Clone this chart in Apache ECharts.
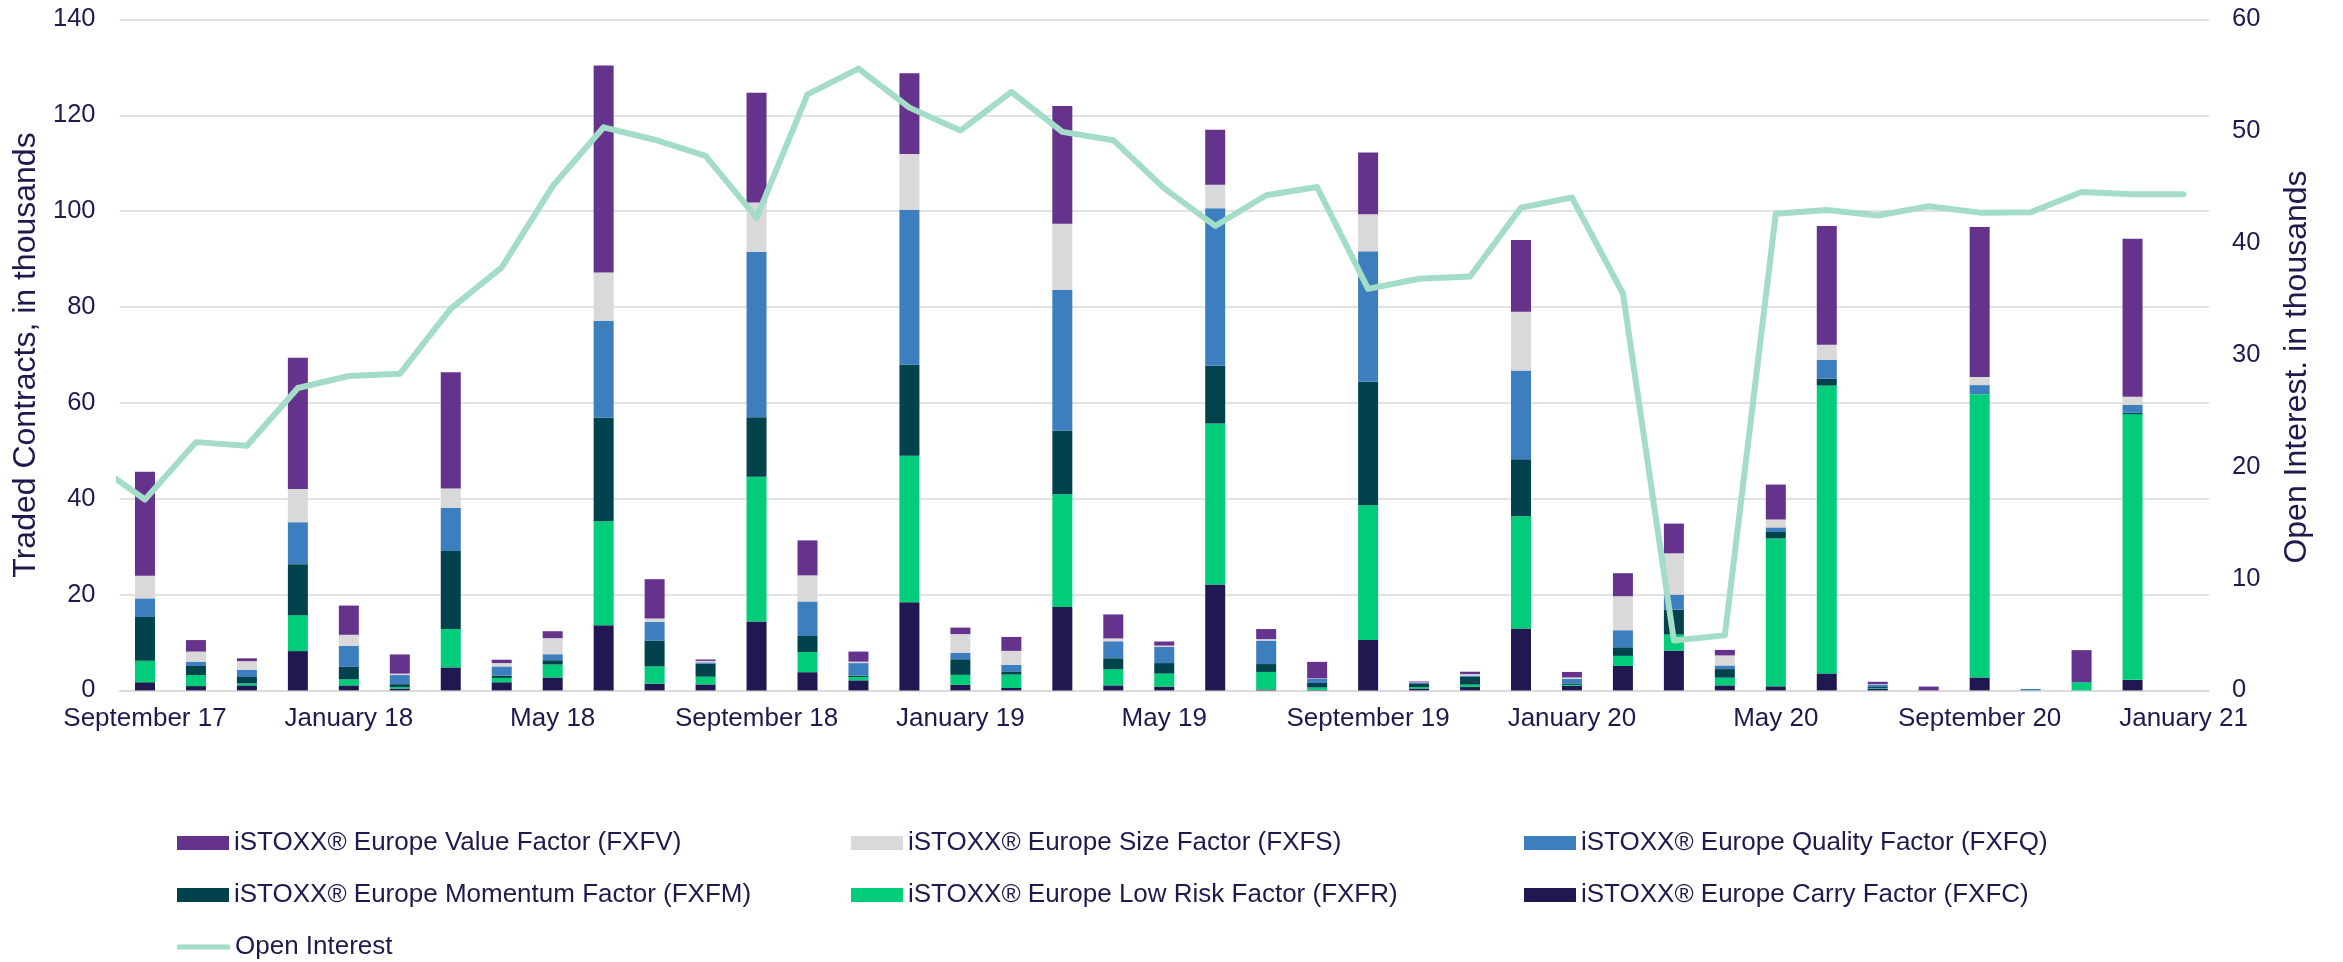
<!DOCTYPE html>
<html>
<head>
<meta charset="utf-8">
<script src="https://cdn.jsdelivr.net/npm/echarts@6/dist/echarts.min.js"></script>
<style>
  html, body { margin: 0; padding: 0; background: #ffffff; }
  #chart { width: 2343px; height: 962px; }
</style>
</head>
<body>
<div id="chart"></div>
<script>
// Categories (monthly)
const months = ['September 17', 'October 17', 'November 17', 'December 17', 'January 18', 'February 18', 'March 18', 'April 18', 'May 18', 'June 18', 'July 18', 'August 18', 'September 18', 'October 18', 'November 18', 'December 18', 'January 19', 'February 19', 'March 19', 'April 19', 'May 19', 'June 19', 'July 19', 'August 19', 'September 19', 'October 19', 'November 19', 'December 19', 'January 20', 'February 20', 'March 20', 'April 20', 'May 20', 'June 20', 'July 20', 'August 20', 'September 20', 'October 20', 'November 20', 'December 20', 'January 21'];

// Traded contracts, in thousands (stacked from bottom to top)
const carryFXFC    = [1.7, 0.9, 1.05, 8.2, 1.05, 0.4, 4.8, 1.7, 2.7, 13.6, 1.4, 1.25, 14.4, 3.8, 2.1, 18.4, 1.15, 0.5, 17.4, 1.05, 0.8, 22.1, 0.2, 0.1, 10.5, 0.4, 0.7, 12.9, 0.95, 5.1, 8.3, 1.05, 0.85, 3.55, 0.4, 0, 2.7, 0, 0, 2.2, 0];
const lowRiskFXFR  = [4.5, 2.3, 0.4, 7.5, 1.25, 0.3, 8.0, 0.9, 2.7, 21.7, 3.6, 1.6, 30.2, 4.2, 0.7, 30.55, 2.1, 2.8, 23.55, 3.35, 2.7, 33.6, 3.65, 0.5, 28.15, 0.3, 0.5, 23.45, 0.2, 2.1, 3.35, 1.6, 30.85, 60.05, 0.1, 0, 59.1, 0, 1.7, 55.45, 0];
const momentumFXFM = [9.1, 1.9, 1.35, 10.6, 2.6, 0.6, 16.3, 0.5, 0.9, 21.6, 5.4, 2.7, 12.4, 3.35, 0.3, 19.05, 3.25, 0.55, 13.3, 2.3, 2.2, 12.05, 1.65, 0.95, 25.75, 0.65, 1.7, 11.9, 0.3, 1.8, 5.2, 1.8, 1.35, 1.45, 0.2, 0, 0, 0, 0, 0.3, 0];
const qualityFXFQ  = [3.9, 0.9, 1.5, 8.8, 4.4, 1.9, 9.0, 1.9, 1.25, 20.2, 3.9, 0.3, 34.5, 7.2, 2.6, 32.3, 1.35, 1.45, 29.3, 3.55, 3.35, 32.85, 4.9, 0.85, 27.2, 0.2, 0.2, 18.5, 0.95, 3.55, 3.15, 0.75, 0.95, 3.9, 0.5, 0, 1.9, 0.3, 0, 1.6, 0];
const sizeFXFS     = [4.7, 2.1, 1.8, 6.9, 2.3, 0.3, 4.0, 0.7, 3.35, 10.1, 0.7, 0.3, 10.3, 5.45, 0.3, 11.6, 3.9, 2.95, 13.8, 0.6, 0.3, 4.9, 0.3, 0.1, 7.75, 0.1, 0.3, 12.25, 0.3, 7.1, 8.6, 2.1, 1.65, 3.15, 0.1, 0, 1.7, 0, 0, 1.7, 0];
const valueFXFV    = [21.7, 2.4, 0.6, 27.4, 6.1, 4.0, 24.3, 0.7, 1.45, 43.2, 8.2, 0.3, 22.9, 7.3, 2.1, 16.85, 1.35, 2.9, 24.6, 5.0, 0.85, 11.5, 2.1, 3.45, 12.9, 0.2, 0.5, 14.95, 1.15, 4.8, 6.2, 1.15, 7.3, 24.8, 0.5, 0.8, 31.3, 0, 6.7, 33.0, 0];

// Open interest, in thousands (series begins one month before the visible window)
const oiMonths = ['August 17'].concat(months);
const openInterest = [20.3, 17.07, 22.2, 21.87, 27.04, 28.11, 28.31, 34.14, 37.83, 45.1, 50.35, 49.24, 47.8, 42.27, 53.3, 55.6, 52.11, 50.06, 53.51, 49.94, 49.2, 44.89, 41.53, 44.28, 45.01, 35.9, 36.81, 37.01, 43.17, 44.07, 35.49, 4.47, 4.92, 42.63, 42.96, 42.47, 43.29, 42.72, 42.76, 44.56, 44.36, 44.36];

// Axis ticks
const leftTicks = { min: 0, max: 140, interval: 20 };
const rightTicks = { min: 0, max: 60, interval: 10 };

const TXT = '#1f1a4e';
const FONT = "'Liberation Sans', Arial, sans-serif";

const barSeriesDefs = [
  { name: 'iSTOXX® Europe Carry Factor (FXFC)', data: carryFXFC, color: '#201850' },
  { name: 'iSTOXX® Europe Low Risk Factor (FXFR)', data: lowRiskFXFR, color: '#00cc7a' },
  { name: 'iSTOXX® Europe Momentum Factor (FXFM)', data: momentumFXFM, color: '#01424d' },
  { name: 'iSTOXX® Europe Quality Factor (FXFQ)', data: qualityFXFQ, color: '#3d7ebe' },
  { name: 'iSTOXX® Europe Size Factor (FXFS)', data: sizeFXFS, color: '#d9d9d9' },
  { name: 'iSTOXX® Europe Value Factor (FXFV)', data: valueFXFV, color: '#66338c' }
];

const series = barSeriesDefs.map(d => ({
  name: d.name,
  type: 'bar',
  stack: 'traded',
  xAxisIndex: 0,
  yAxisIndex: 0,
  barWidth: 20,
  data: d.data,
  itemStyle: { color: d.color },
  emphasis: { disabled: true }
}));

series.push({
  name: 'Open Interest',
  type: 'line',
  xAxisIndex: 1,
  yAxisIndex: 1,
  data: openInterest.map((v, i) => [i - 1, v]),
  symbol: 'none',
  clip: true,
  z: 10,
  itemStyle: { color: '#a3dcc7' },
  lineStyle: { color: '#a3dcc7', width: 6, cap: 'round', join: 'round' }
});

const legendText = { color: TXT, fontSize: 26, fontFamily: FONT, lineHeight: 30 };
function legendCol(left, top, names, extra) {
  return Object.assign({
    orient: 'vertical',
    left: left,
    top: top,
    padding: 0,
    itemGap: 22,
    itemWidth: 52,
    itemHeight: 14,
    icon: 'rect',
    selectedMode: false,
    textStyle: legendText,
    data: names
  }, extra || {});
}

const option = {
  animation: false,
  backgroundColor: '#ffffff',
  grid: { left: 119.5, right: 134, top: 19.4, bottom: 271.6, containLabel: false },
  legend: [
    legendCol(177, 828, ['iSTOXX® Europe Value Factor (FXFV)', 'iSTOXX® Europe Momentum Factor (FXFM)']),
    legendCol(851, 828, ['iSTOXX® Europe Size Factor (FXFS)', 'iSTOXX® Europe Low Risk Factor (FXFR)']),
    legendCol(1524, 828, ['iSTOXX® Europe Quality Factor (FXFQ)', 'iSTOXX® Europe Carry Factor (FXFC)']),
    legendCol(177, 932, ['Open Interest'], { icon: 'roundRect', itemHeight: 5, itemWidth: 53 })
  ],
  xAxis: [
    {
      type: 'category',
      data: months,
      boundaryGap: true,
      axisTick: { show: false },
      axisLine: { show: true, lineStyle: { color: '#d9d9d9', width: 1.5 } },
      axisLabel: { interval: 3, color: TXT, fontSize: 26, fontFamily: FONT, margin: 15 },
      splitLine: { show: false }
    },
    {
      type: 'value',
      min: -0.5,
      max: months.length - 0.5,
      show: false,
      splitLine: { show: false }
    }
  ],
  yAxis: [
    {
      type: 'value',
      min: leftTicks.min, max: leftTicks.max, interval: leftTicks.interval,
      axisLine: { show: false },
      axisTick: { show: false },
      axisLabel: { color: TXT, fontSize: 25.5, fontFamily: FONT, margin: 24 },
      splitLine: { show: true, lineStyle: { color: '#d9d9d9', width: 1.5 } }
    },
    {
      type: 'value',
      position: 'right',
      min: rightTicks.min, max: rightTicks.max, interval: rightTicks.interval,
      axisLine: { show: false },
      axisTick: { show: false },
      axisLabel: { color: TXT, fontSize: 25.5, fontFamily: FONT, margin: 23 },
      splitLine: { show: false }
    }
  ],
  graphic: [
    {
      type: 'text', x: 26, y: 355, rotation: Math.PI / 2,
      style: { text: 'Traded Contracts, in thousands', fill: TXT, font: '32px ' + FONT, textAlign: 'center', textVerticalAlign: 'middle' }
    },
    {
      type: 'text', x: 2297, y: 367, rotation: Math.PI / 2,
      style: { text: 'Open Interest. in thousands', fill: TXT, font: '32px ' + FONT, textAlign: 'center', textVerticalAlign: 'middle' }
    }
  ],
  series: series
};

const chart = echarts.init(document.getElementById('chart'), null, { renderer: 'canvas' });
chart.setOption(option);
</script>
</body>
</html>
